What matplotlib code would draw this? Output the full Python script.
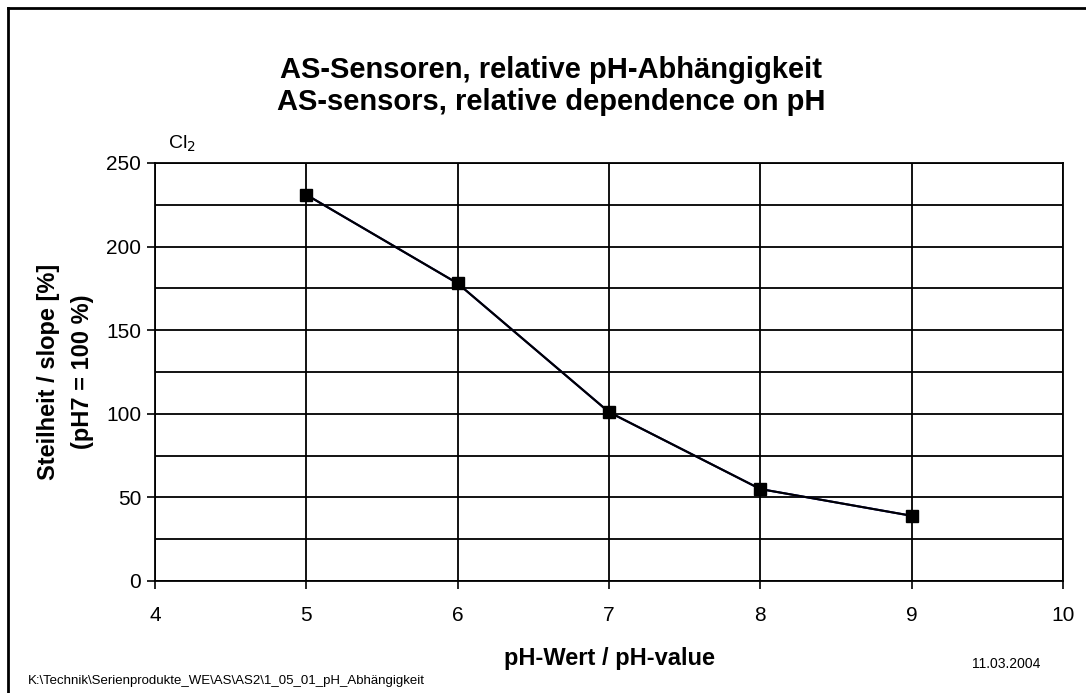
import matplotlib.pyplot as plt
from matplotlib.lines import Line2D

# data
ph = [5, 6, 7, 8, 9]
slope = [231, 178, 101, 55, 39]

plt.rcParams['font.family'] = ['Liberation Sans', 'DejaVu Sans']

W, H = 1086, 693
fig = plt.figure(figsize=(W / 100, H / 100), dpi=100)
ax = fig.add_axes([155 / W, 1 - 581 / H, (1063 - 155) / W, (581 - 163) / H])

# hidden blue diamond series underneath the black squares
ax.plot(ph, slope, color='navy', marker='D', markersize=5, lw=1.5, zorder=3)
ax.plot(ph, slope, color='black', marker='s', markersize=8, lw=1.5, zorder=4)

ax.set_xlim(4, 10)
ax.set_ylim(0, 250)
ax.set_xticks(range(4, 11))
ax.set_yticks(range(0, 251, 50))
ax.set_yticks(range(25, 250, 50), minor=True)
ax.grid(True, which='both', color='black', lw=1.3)
ax.tick_params(which='major', direction='out', length=6, width=1.2, labelsize=15, pad=4)
ax.tick_params(axis='x', which='major', pad=12)
ax.tick_params(which='minor', length=0)
for s in ax.spines.values():
    s.set_linewidth(1.3)

fig.text(551 / W, 1 - 70 / H, 'AS-Sensoren, relative pH-Abhängigkeit', ha='center', va='center',
         fontsize=21, fontweight='bold')
fig.text(551 / W, 1 - 102 / H, 'AS-sensors, relative dependence on pH', ha='center', va='center',
         fontsize=21, fontweight='bold')

fig.text(49 / W, 1 - 372 / H, 'Steilheit / slope [%]', rotation=90, ha='center', va='center',
         fontsize=17, fontweight='bold')
fig.text(82 / W, 1 - 372 / H, '(pH7 = 100 %)', rotation=90, ha='center', va='center',
         fontsize=17, fontweight='bold')
fig.text(609 / W, 1 - 659 / H, 'pH-Wert / pH-value', ha='center', va='center',
         fontsize=17, fontweight='bold')
fig.text(168 / W, 1 - 144 / H, 'Cl$_2$', ha='left', va='center', fontsize=14)
fig.text(1040 / W, 1 - 664 / H, '11.03.2004', ha='right', va='center', fontsize=10)
fig.text(28 / W, 1 - 681 / H, 'K:\\Technik\\Serienprodukte_WE\\AS\\AS2\\1_05_01_pH_Abhängigkeit',
         ha='left', va='center', fontsize=9.5)

# frame lines (top and left) around the chart area
fig.add_artist(Line2D([8 / W, 1], [1 - 8 / H, 1 - 8 / H], transform=fig.transFigure, color='black', lw=2))
fig.add_artist(Line2D([8 / W, 8 / W], [0, 1 - 8 / H], transform=fig.transFigure, color='black', lw=2))

fig.savefig('out.png', dpi=100)
